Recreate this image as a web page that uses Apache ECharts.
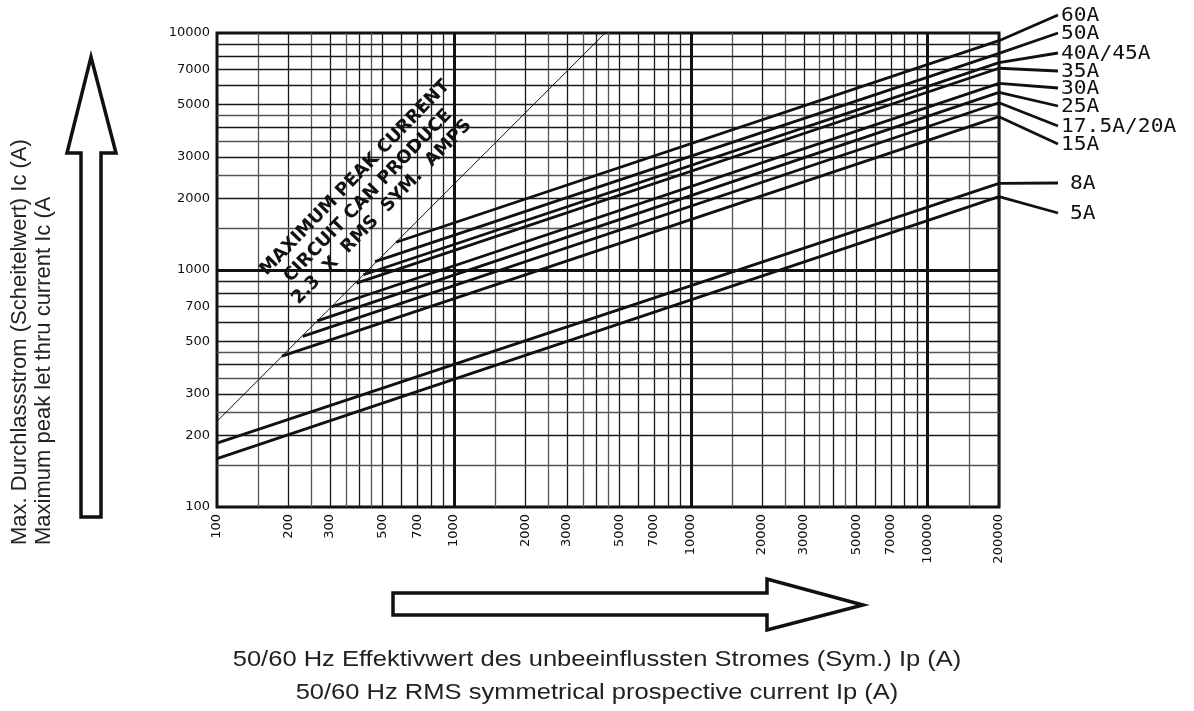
<!DOCTYPE html>
<html>
<head>
<meta charset="utf-8">
<script src="https://cdn.jsdelivr.net/npm/echarts@6/dist/echarts.min.js"></script>
<style>
  html, body { margin: 0; padding: 0; background: #fff; }
  #chart { width: 1194px; height: 711px; }
</style>
</head>
<body>
<div id="chart"></div>
<script>
// tick labels
const IP_TICKS = [100, 200, 300, 500, 700, 1000, 2000, 3000, 5000, 7000, 10000, 20000, 30000, 50000, 70000, 100000, 200000];
const IC_TICKS = [100, 200, 300, 500, 700, 1000, 2000, 3000, 5000, 7000, 10000];

// fuse curves: start point on the 2.3 x Ip line, end at 200000 A
const FUSE_NAMES = ['60A', '50A', '40A/45A', '35A', '30A', '25A', '17.5A/20A', '15A', '8A', '5A'];
const FUSE_START_IP = [570, 464, 415, 388, 305, 265, 230, 188, 100, 100];
const FUSE_START_IC = [1310, 1084, 955, 880, 700, 610, 525, 433, 186, 160];
const FUSE_END_IP = 200000;
const FUSE_END_IC = [9280, 8200, 7500, 7100, 6130, 5620, 5080, 4435, 2320, 2040];

// 2.3 x RMS sym. amps limit line
const LIMIT_IP = [100, 4350];
const LIMIT_IC = [230, 10000];

// label slots on the right (pixel y)
const LABEL_Y = [15, 33, 53, 71, 88, 106, 126, 144, 183, 213];

const GRID_STEPS = [1.5, 2, 2.5, 3, 3.5, 4, 4.5, 5, 6, 7, 8, 9];

let chart = echarts.init(document.getElementById('chart'));

function gridLines(axisKey, decades) {
  let out = [];
  decades.forEach(function (d) {
    GRID_STEPS.forEach(function (s) {
      let v = d * s;
      if (axisKey === 'xAxis' && v > 200000) return;
      let half = (s * 2) % 2 === 1;
      let item = {};
      item[axisKey] = v;
      item.lineStyle = { color: half ? '#555' : '#1a1a1a', width: 1.3, type: 'solid' };
      out.push(item);
    });
  });
  return out;
}

let marks = []
  .concat(gridLines('xAxis', [100, 1000, 10000, 100000]))
  .concat(gridLines('yAxis', [100, 1000]))
  .concat([1000, 10000, 100000].map(function (v) {
    return { xAxis: v, lineStyle: { color: '#111', width: 3, type: 'solid' } };
  }))
  .concat([{ yAxis: 1000, lineStyle: { color: '#111', width: 3, type: 'solid' } }]);

let series = [{
  name: 'limit',
  type: 'line',
  symbol: 'none',
  z: 2,
  lineStyle: { color: '#111', width: 1 },
  data: LIMIT_IP.map(function (x, i) { return [x, LIMIT_IC[i]]; }),
  markLine: {
    silent: true,
    symbol: ['none', 'none'],
    label: { show: false },
    animation: false,
    z: 1,
    data: marks
  }
}];

FUSE_NAMES.forEach(function (name, i) {
  series.push({
    name: name,
    type: 'line',
    symbol: 'none',
    z: 3,
    lineStyle: { color: '#111', width: 2.8 },
    data: [[FUSE_START_IP[i], FUSE_START_IC[i]], [FUSE_END_IP, FUSE_END_IC[i]]]
  });
});

function plain(v) { return String(Math.round(v)); }

chart.setOption({
  animation: false,
  backgroundColor: '#fff',
  grid: {
    left: 217, top: 33, right: 195, bottom: 204,
    show: true, borderColor: '#111', borderWidth: 3, backgroundColor: '#fff'
  },
  xAxis: {
    type: 'log', logBase: 10, min: 100, max: 200000,
    axisLine: { show: false },
    axisTick: { show: false },
    splitLine: { show: false },
    axisLabel: {
      customValues: IP_TICKS,
      formatter: plain,
      rotate: 90, margin: 7,
      fontFamily: 'DejaVu Sans', fontSize: 13, color: '#111'
    }
  },
  yAxis: {
    type: 'log', logBase: 10, min: 100, max: 10000,
    axisLine: { show: false },
    axisTick: { show: false },
    splitLine: { show: false },
    axisLabel: {
      customValues: IC_TICKS,
      formatter: plain,
      margin: 7,
      fontFamily: 'DejaVu Sans', fontSize: 13, color: '#111'
    }
  },
  series: series
});

// annotations: leaders, labels, arrows, titles
let gfx = [];
FUSE_NAMES.forEach(function (name, i) {
  let p = chart.convertToPixel({ gridIndex: 0 }, [FUSE_END_IP, FUSE_END_IC[i]]);
  gfx.push({
    type: 'line', z: 10,
    shape: { x1: p[0], y1: p[1], x2: 1058, y2: LABEL_Y[i] },
    style: { stroke: '#111', lineWidth: 2.8 }
  });
  gfx.push({
    type: 'text', z: 10,
    x: i >= 8 ? 1070 : 1061, y: LABEL_Y[i] + 1,
    scaleX: 1.12,
    style: {
      text: name, fill: '#111', font: '19px "DejaVu Sans Mono"',
      textAlign: 'left', textVerticalAlign: 'middle'
    }
  });
});

// limit line caption
const LIMIT_TEXT = ['MAXIMUM PEAK CURRENT', 'CIRCUIT CAN PRODUCE', '2.3  X  RMS  SYM.  AMPS'];
const LIMIT_POS = [[355, 178], [368, 196], [382, 212]];
LIMIT_TEXT.forEach(function (t, i) {
  gfx.push({
    type: 'text', z: 11,
    x: LIMIT_POS[i][0], y: LIMIT_POS[i][1],
    rotation: Math.PI * 0.255,
    style: {
      text: t, fill: '#111', font: 'bold 18px "DejaVu Sans"',
      textAlign: 'center', textVerticalAlign: 'middle'
    }
  });
});

// vertical hollow arrow
gfx.push({
  type: 'polygon', z: 10,
  shape: { points: [[91, 57], [116, 153], [101, 153], [101, 517], [81, 517], [81, 153], [67, 153]] },
  style: { fill: '#fff', stroke: '#111', lineWidth: 3.5 }
});
// horizontal hollow arrow
gfx.push({
  type: 'polygon', z: 10,
  shape: { points: [[393, 593], [767, 593], [767, 579], [863, 605], [767, 630], [767, 615], [393, 615]] },
  style: { fill: '#fff', stroke: '#111', lineWidth: 3.5 }
});

const Y_TITLE = ['Max. Durchlassstrom (Scheitelwert) Ic (A)', 'Maximum peak let thru current Ic (A'];
Y_TITLE.forEach(function (t, i) {
  gfx.push({
    type: 'text', z: 10,
    x: 20 + i * 24, y: 545,
    rotation: Math.PI / 2,
    style: {
      text: t, fill: '#222', font: '22px "Liberation Sans"',
      textAlign: 'left', textVerticalAlign: 'middle'
    }
  });
});

const X_TITLE = ['50/60 Hz Effektivwert des unbeeinflussten Stromes (Sym.) Ip (A)', '50/60 Hz RMS symmetrical prospective current Ip (A)'];
X_TITLE.forEach(function (t, i) {
  gfx.push({
    type: 'text', z: 10,
    x: 597, y: 660 + i * 33,
    scaleX: 1.16,
    style: {
      text: t, fill: '#222', font: '22px "Liberation Sans"',
      textAlign: 'center', textVerticalAlign: 'middle'
    }
  });
});

chart.setOption({ graphic: gfx });
</script>
</body>
</html>
